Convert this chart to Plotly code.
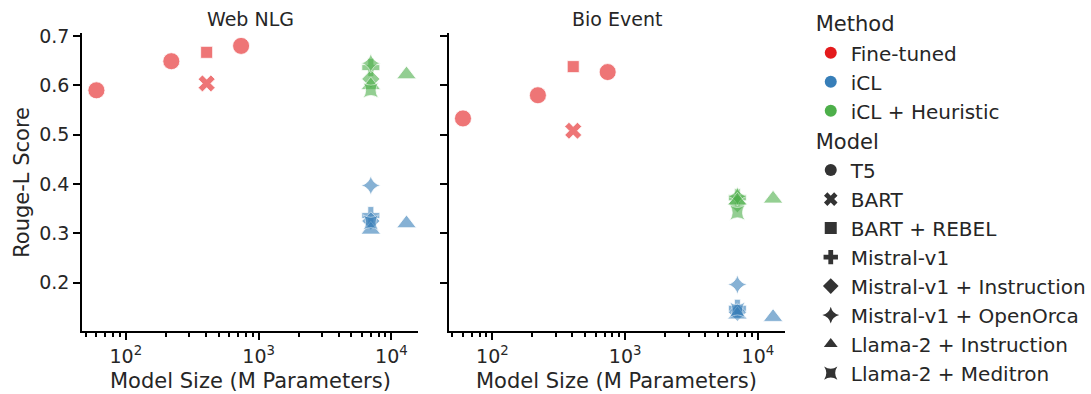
import plotly.graph_objects as go

# ---- data ----
method_names = ["Fine-tuned", "iCL", "iCL + Heuristic"]
model_names = ["T5", "BART", "BART + REBEL", "Mistral-v1", "Mistral-v1 + Instruction",
               "Mistral-v1 + OpenOrca", "Llama-2 + Instruction", "Llama-2 + Meditron"]
panel_titles = ["Web NLG", "Bio Event"]

row_method = ["Fine-tuned"] * 5 + ["iCL"] * 6 + ["iCL + Heuristic"] * 6
row_model = ["T5", "T5", "T5", "BART", "BART + REBEL",
             "Mistral-v1", "Mistral-v1 + Instruction", "Mistral-v1 + OpenOrca",
             "Llama-2 + Instruction", "Llama-2 + Instruction", "Llama-2 + Meditron",
             "Mistral-v1", "Mistral-v1 + Instruction", "Mistral-v1 + OpenOrca",
             "Llama-2 + Instruction", "Llama-2 + Instruction", "Llama-2 + Meditron"]
row_size = [60, 220, 738, 406, 406,
            7000, 7000, 7000, 7000, 13000, 7000,
            7000, 7000, 7000, 7000, 13000, 7000]
webnlg = [0.590, 0.649, 0.680, 0.604, 0.667,
          0.336, 0.325, 0.397, 0.307, 0.320, 0.322,
          0.636, 0.613, 0.645, 0.600, 0.622, 0.590]
bioevent = [0.533, 0.580, 0.627, 0.508, 0.638,
            0.148, 0.140, 0.196, 0.135, 0.130, 0.145,
            0.372, 0.360, 0.375, 0.366, 0.370, 0.342]

x_tickvals = [100, 1000, 10000]
x_ticktext = ["10<sup>2</sup>", "10<sup>3</sup>", "10<sup>4</sup>"]
y_tickvals = [0.2, 0.3, 0.4, 0.5, 0.6, 0.7]
x_title = "Model Size (M Parameters)"
y_title = "Rouge-L Score"

# ---- styles ----
method_colors = {"Fine-tuned": "#e41a1c", "iCL": "#377eb8", "iCL + Heuristic": "#4daf4a"}
model_symbols = {"T5": "circle", "BART": "x", "BART + REBEL": "square", "Mistral-v1": "cross",
                 "Mistral-v1 + Instruction": "diamond", "Mistral-v1 + OpenOrca": "star-diamond",
                 "Llama-2 + Instruction": "triangle-up", "Llama-2 + Meditron": "star-square"}
model_sizes = {"T5": 17, "BART": 15, "BART + REBEL": 12, "Mistral-v1": 15,
               "Mistral-v1 + Instruction": 14, "Mistral-v1 + OpenOrca": 14,
               "Llama-2 + Instruction": 17, "Llama-2 + Meditron": 14}

FONT = "DejaVu Sans"
TXT = "#262626"
DOM1 = [0.0761, 0.3868]
DOM2 = [0.4152, 0.7259]
YDOM = [0.16, 0.916]

fig = go.Figure()

for p, vals in enumerate([webnlg, bioevent]):
    xa = "x" if p == 0 else "x2"
    ya = "y" if p == 0 else "y2"
    for meth in method_names:
        for mod in model_names:
            idx = [i for i in range(len(row_size)) if row_method[i] == meth and row_model[i] == mod]
            if not idx:
                continue
            fig.add_trace(go.Scatter(
                x=[row_size[i] for i in idx], y=[vals[i] for i in idx],
                mode="markers", xaxis=xa, yaxis=ya, showlegend=False,
                marker=dict(symbol=model_symbols[mod], size=model_sizes[mod],
                            color=method_colors[meth], opacity=0.6,
                            line=dict(color="white", width=0.8)),
                hovertemplate=f"{meth}<br>{mod}<br>%{{x}}M: %{{y}}<extra></extra>"))

# legend entries
for k, meth in enumerate(method_names):
    fig.add_trace(go.Scatter(
        x=[None], y=[None], mode="markers", name=meth, legendgroup="method",
        legendgrouptitle=dict(text="Method", font=dict(size=21, color=TXT, family=FONT)) if k == 0 else None,
        marker=dict(symbol="circle", size=12, color=method_colors[meth])))
for k, mod in enumerate(model_names):
    fig.add_trace(go.Scatter(
        x=[None], y=[None], mode="markers", name=mod, legendgroup="model",
        legendgrouptitle=dict(text="Model", font=dict(size=21, color=TXT, family=FONT)) if k == 0 else None,
        marker=dict(symbol=model_symbols[mod], size=11, color="#333333")))

minor_vals = [v * m for v in [10, 100, 1000, 10000] for m in range(2, 10)]

def xaxis_cfg(domain, anchor):
    return dict(type="log", domain=domain, anchor=anchor, range=[1.6716, 4.2015], automargin=False,
                tickvals=x_tickvals, ticktext=x_ticktext, ticks="outside", ticklen=7,
                tickwidth=2, tickcolor="black", showline=True, linecolor="black", linewidth=2,
                showgrid=False, zeroline=False,
                minor=dict(tickvals=minor_vals, ticks="outside", ticklen=4, tickwidth=1.5,
                           tickcolor="black", showgrid=False),
                tickfont=dict(size=19, color=TXT, family=FONT))

def yaxis_cfg(anchor, labels):
    return dict(domain=YDOM, anchor=anchor, range=[0.102, 0.706], automargin=False,
                tickvals=y_tickvals, showticklabels=labels, ticks="outside", ticklen=7,
                tickwidth=2, tickcolor="black", showline=True, linecolor="black", linewidth=2,
                showgrid=False, zeroline=False, tickformat=".1f",
                tickfont=dict(size=19, color=TXT, family=FONT))

title_font = dict(size=19, color=TXT, family=FONT)
label_font = dict(size=21, color=TXT, family=FONT)

def ann(text, x, y, font, angle=0):
    return dict(text=text, x=x, y=y, xref="paper", yref="paper", xanchor="center", yanchor="middle",
                showarrow=False, font=font, textangle=angle)

fig.update_layout(
    width=1091, height=394, margin=dict(l=0, r=0, t=0, b=0),
    plot_bgcolor="white", paper_bgcolor="white",
    font=dict(family=FONT, color=TXT),
    xaxis=xaxis_cfg(DOM1, "y"),
    xaxis2=xaxis_cfg(DOM2, "y2"),
    yaxis=yaxis_cfg("x", True),
    yaxis2=yaxis_cfg("x2", False),
    legend=dict(x=0.750, y=1 - 3 / 394, xanchor="left", yanchor="top",
                font=dict(size=20, color=TXT, family=FONT),
                tracegroupgap=0, itemsizing="constant", bgcolor="rgba(0,0,0,0)"),
    annotations=[
        ann(panel_titles[0], sum(DOM1) / 2, 1 - 19 / 394, title_font),
        ann(panel_titles[1], sum(DOM2) / 2, 1 - 19 / 394, title_font),
        ann(x_title, sum(DOM1) / 2, 1 - 381 / 394, label_font),
        ann(x_title, sum(DOM2) / 2, 1 - 381 / 394, label_font),
        ann(y_title, 22 / 1091, sum(YDOM) / 2, label_font, -90),
    ],
)

fig.write_html("out.html", config={"displayModeBar": False})
with open("out.html", "r", encoding="utf-8") as f:
    html = f.read()
html = html.replace("<head>", "<head><style>html,body{margin:0;padding:0;overflow:hidden;}</style>", 1)
with open("out.html", "w", encoding="utf-8") as f:
    f.write(html)
